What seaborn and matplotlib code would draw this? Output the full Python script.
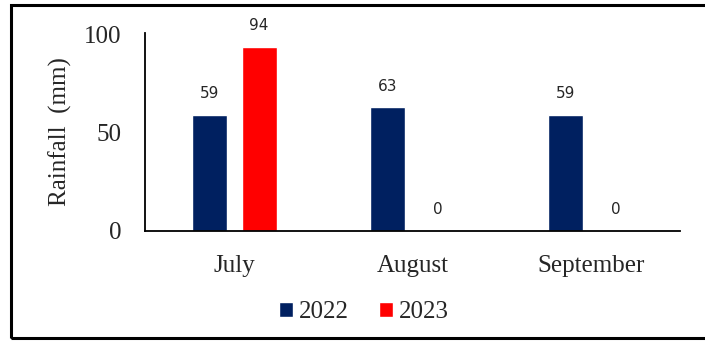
import matplotlib
matplotlib.use("Agg")
import matplotlib.pyplot as plt
import seaborn as sns
import pandas as pd
from matplotlib.patches import Rectangle

# data
months = ["July", "August", "September"]
rain_2022 = [59, 63, 59]
rain_2023 = [94, 0, 0]
years = ["2022", "2023"]
colors = ["#002060", "#FF0000"]

df = pd.DataFrame({
    "Month": months * 2,
    "Year": [years[0]] * 3 + [years[1]] * 3,
    "Rainfall": rain_2022 + rain_2023,
})

sns.set_style("white")
plt.rcParams["font.family"] = ["Liberation Serif", "DejaVu Serif"]

fig = plt.figure(figsize=(7.05, 3.41), dpi=100)
ax = fig.add_axes([0.2057, 0.3226, 0.7589, 0.5806])

sns.barplot(data=df, x="Month", y="Rainfall", hue="Year", palette=colors,
            saturation=1, width=0.56, gap=0.3, ax=ax)

# value labels above the bars
for container in ax.containers:
    ax.bar_label(container, padding=10, fontsize=11,
                 fontfamily="DejaVu Sans", color="#262626")

ax.set_ylim(0, 101)
ax.set_xlim(-0.5, 2.5)
ax.set_yticks([0, 50, 100])
ax.tick_params(axis="y", length=0, pad=17, labelsize=18)
ax.tick_params(axis="x", length=0, pad=17, labelsize=18)
ax.set_xlabel("")
ax.set_ylabel("Rainfall  (mm)", fontsize=18)
ax.yaxis.set_label_coords(-0.136, 0.5)

sns.despine(ax=ax)
for side in ["left", "bottom"]:
    ax.spines[side].set_color("black")
    ax.spines[side].set_linewidth(1.3)

ax.legend_.remove()
handles, labels = ax.get_legend_handles_labels()
fig.legend(handles, labels, loc="center", bbox_to_anchor=(0.516, 0.085),
           ncol=2, frameon=False, prop={"family": "Liberation Serif", "size": 18},
           handlelength=0.55, handleheight=0.55, handletextpad=0.25,
           columnspacing=1.2)

# outer frame of the figure
fig.add_artist(Rectangle((11 / 705, 1 - 338 / 341), 1.1, 333 / 341,
                         transform=fig.transFigure, fill=False,
                         edgecolor="black", linewidth=2.2, clip_on=False))

fig.savefig("out.png", dpi=100)
